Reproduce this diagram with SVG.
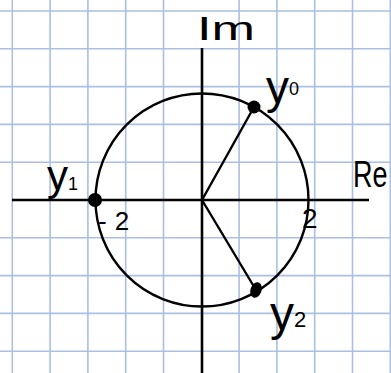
<svg xmlns="http://www.w3.org/2000/svg" width="391" height="373" viewBox="0 0 391 373">
<style>
.grid{stroke:#aabfe2;stroke-width:1.6;fill:none}
.ink{stroke:#000;stroke-width:2.4;fill:none;stroke-linecap:round}
.axis{stroke:#000;stroke-width:2.6;fill:none}
.lbl{font-family:"Liberation Sans","DejaVu Sans",sans-serif;fill:#000}
.dot{fill:#000}
</style>
<rect width="391" height="373" fill="#fff"/>
<g id="grid" class="grid">
<path d="M12.3 0V373M50.1 0V373M87.9 0V373M125.7 0V373M163.5 0V373M239.1 0V373M276.9 0V373M314.7 0V373M352.5 0V373M390.3 0V373"/>
<path d="M0 11H391M0 48.8H391M0 86.6H391M0 124.4H391M0 162.2H391M0 237.8H391M0 275.6H391M0 313.4H391M0 351.2H391"/>
</g>
<g id="axes">
<line class="axis" x1="12" y1="200" x2="369" y2="200"/>
<line class="axis" x1="202" y1="48" x2="202" y2="373"/>
</g>
<g id="circle">
<circle class="ink" cx="202" cy="200" r="106.5"/>
</g>
<g id="connectors">
<line class="ink" x1="202" y1="200" x2="254" y2="107"/>
<line class="ink" x1="202" y1="200" x2="256" y2="290"/>
</g>
<g id="y0">
<circle class="dot" cx="254" cy="107" r="6.5"/>
<text class="lbl" x="266" y="103" font-size="46">y<tspan font-size="18" dy="-8">0</tspan></text>
</g>
<g id="y1">
<circle class="dot" cx="95" cy="200" r="7"/>
<text class="lbl" x="47" y="190" font-size="42">y<tspan font-size="18">1</tspan></text>
</g>
<g id="y2">
<ellipse class="dot" cx="256" cy="290" rx="5.5" ry="8" transform="rotate(20 256 290)"/>
<text class="lbl" x="270" y="330" font-size="48">y<tspan font-size="22" dy="-3">2</tspan></text>
</g>
<g id="label-im">
<text class="lbl" x="197" y="40" font-size="34" textLength="58" lengthAdjust="spacingAndGlyphs">Im</text>
</g>
<g id="label-re">
<text class="lbl" transform="translate(353 187) scale(1 1.35)" font-size="27">Re</text>
</g>
<g id="label-neg2">
<text class="lbl" x="98" y="230" font-size="26">-<tspan dx="8">2</tspan></text>
</g>
<g id="label-2">
<text class="lbl" x="302" y="228" font-size="28">2</text>
</g>
</svg>
